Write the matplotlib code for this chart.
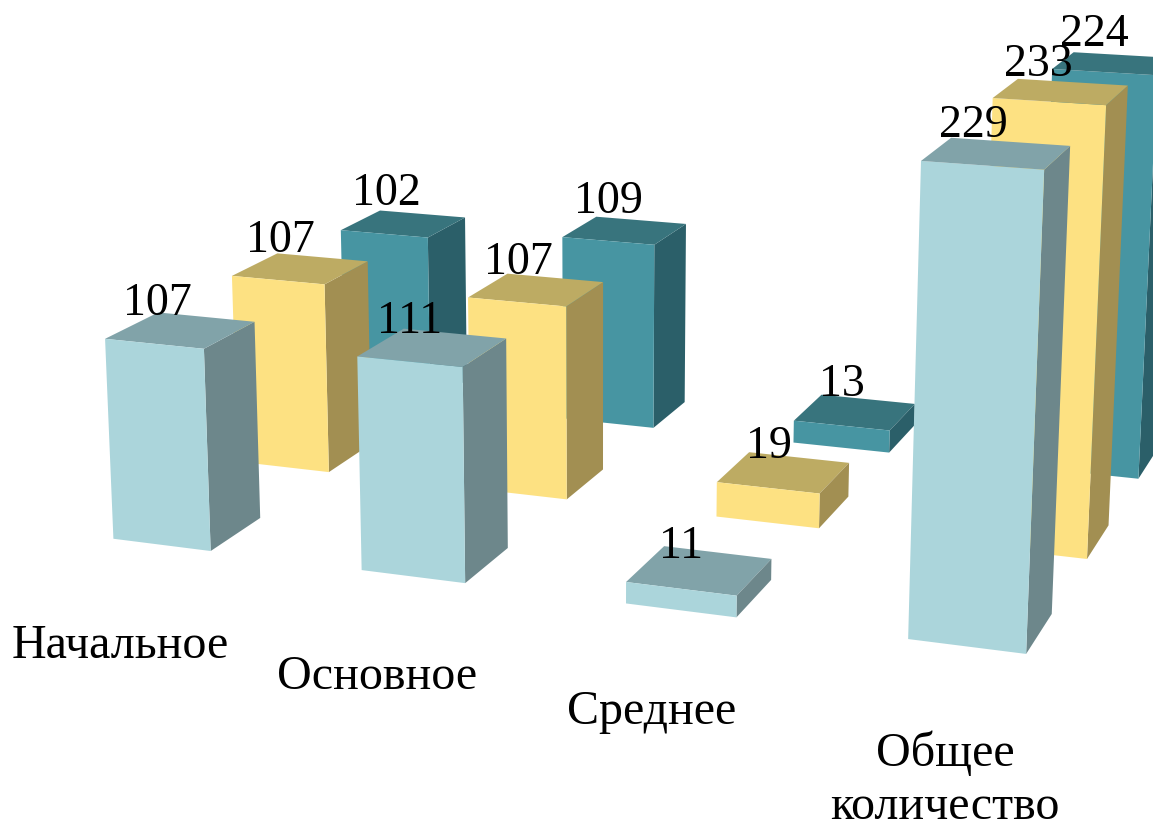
import numpy as np, matplotlib
matplotlib.use('Agg')
import matplotlib.pyplot as plt
from mpl_toolkits.mplot3d import proj3d

categories = ["Начальное", "Основное", "Среднее", "Общее\nколичество"]
series_1 = [107, 111, 11, 229]
series_2 = [107, 107, 19, 233]
series_3 = [102, 109, 13, 224]
series_values = [series_1, series_2, series_3]
front_colors = ["#ABD5DB", "#FDE182", "#4795A2"]
top_colors = ["#81A3A9", "#BDAB63", "#38747D"]
side_colors = ["#6D878B", "#A28F52", "#2B5F69"]

W, H = 1153, 823
elev, azim, roll = 14.39494, -69.38237, 0.12602
focal = np.exp(-0.86238)
aspect = (np.exp(0.85161), np.exp(0.57608), 1)
cx, cy, s = 571.86981, 305.3933, np.exp(8.88231)
wx, wy, x0, y0, z0 = 0.39924, 0.39984, 0.69028, 0.20539, -23.62494

plt.rcParams['font.family'] = ['Liberation Serif', 'DejaVu Serif']
fig = plt.figure(figsize=(W / 100, H / 100), dpi=100, facecolor='white')
ax = fig.add_subplot(projection='3d', computed_zorder=False)
ax.set_xlim(0, 4)
ax.set_ylim(0, 3)
ax.set_zlim(z0, z0 + 240)
ax.view_init(elev=elev, azim=azim, roll=roll)
ax.set_proj_type('persp', focal_length=focal)
ax.set_box_aspect(aspect)
(xa, xb), (ya, yb) = ax.viewLim.intervalx, ax.viewLim.intervaly
L = s * (xb - xa)
ax.set_position([(cx + s * xa) / W, (H - cy + s * ya) / H, L / W, L / H])
ax.set_axis_off()
M = ax.get_proj()

n = 10
for j in (2, 1, 0):
    for i, v in enumerate(series_values[j]):
        col = ax.bar3d(x0 + i, y0 + j, 0, wx, wy, v,
                       color=['none', top_colors[j], front_colors[j], 'none', 'none', side_colors[j]],
                       shade=False, linewidth=0)
        col.set_zorder(n)
        n += 1


def project(x, y, z):
    X, Y, _ = proj3d.proj_transform(np.array([x], float), np.array([y], float), np.array([z], float), M)
    return X[0], Y[0]


value_nudge = [[(-1.9, -0.8), (-1, -2.1), (2.3, -3.6), (-2.2, -2.4)],
               [(-0.8, 1.5), (1.2, 0.3), (4.3, -0.6), (-3.8, -1.6)],
               [(0.4, 4.7), (1, 3), (4.4, 2.2), (-2.9, 1.4)]]
for j in range(3):
    for i, v in enumerate(series_values[j]):
        ax.annotate(str(v), xy=project(x0 + i + 0.1383, y0 + j + 0.1537, v + 9.3361), xycoords='data',
                    xytext=value_nudge[j][i], textcoords='offset pixels',
                    ha='center', va='baseline', fontsize=33, zorder=100)

cat_nudge = [(-0.6, 27.8), (-0.4, 32.9), (0.5, 36.4), (0.4, 37.5)]
for i, c in enumerate(categories):
    ax.annotate(c, xy=project(x0 + i + 0.2259, y0 - 0.3748, -38.8455), xycoords='data',
                xytext=cat_nudge[i], textcoords='offset pixels',
                ha='center', va='top', fontsize=34.6, linespacing=1.29, zorder=100)

fig.savefig('out.png', dpi=100)
